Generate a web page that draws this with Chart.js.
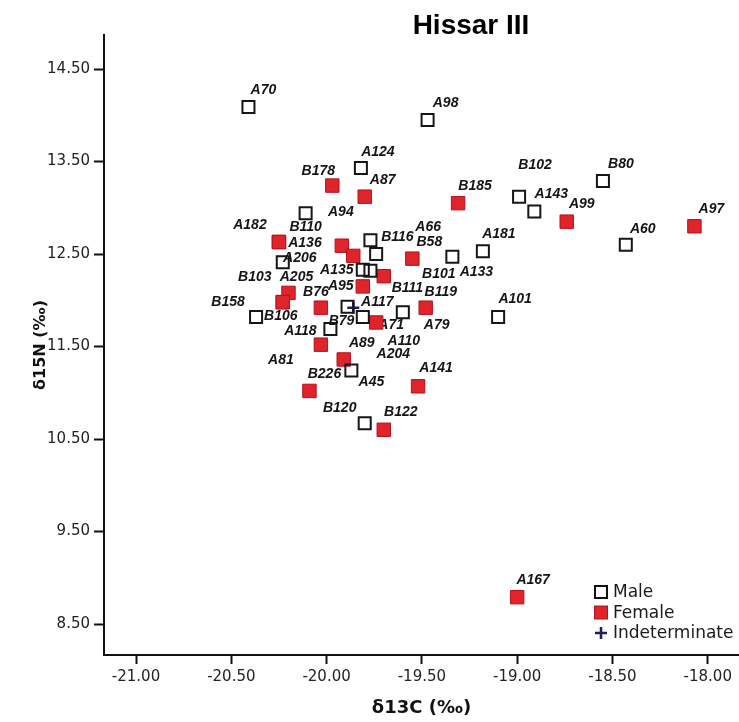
<!DOCTYPE html>
<html>
<head>
<meta charset="utf-8">
<script src="https://cdn.jsdelivr.net/npm/chart.js@4.4.0/dist/chart.umd.min.js"></script>
<style>
  html, body { margin: 0; padding: 0; background: #fff; }
  #wrap { width: 739px; height: 722px; }
</style>
</head>
<body>
<div id="wrap"><canvas id="chart" width="739" height="722"></canvas></div>
<script>
// Hissar III - d13C vs d15N by sex
const maleNames = ['A70', 'A98', 'A124', 'B110', 'B102', 'A143', 'B80', 'A60', 'A181', 'A133', 'B116', 'A66',
  'A135', 'B111', 'A206', 'B158', 'B79', 'A110', 'A118', 'B119', 'A101', 'A45', 'B120'];
const maleC = [-20.41, -19.47, -19.82, -20.11, -18.99, -18.91, -18.55, -18.43, -19.18, -19.34, -19.77, -19.74,
  -19.81, -19.77, -20.23, -20.37, -19.89, -19.81, -19.98, -19.60, -19.10, -19.87, -19.80];
const maleN = [14.09, 13.95, 13.43, 12.94, 13.12, 12.96, 13.29, 12.60, 12.53, 12.47, 12.65, 12.50,
  12.33, 12.32, 12.41, 11.82, 11.93, 11.82, 11.69, 11.87, 11.82, 11.24, 10.67];

const femaleNames = ['B178', 'A87', 'B185', 'A99', 'A97', 'A136', 'A182', 'A94', 'B58', 'B101', 'A95', 'A205',
  'B103', 'B106', 'B76', 'A71', 'A79', 'A81', 'A89', 'A204', 'B226', 'A141', 'B122', 'A167'];
const femaleC = [-19.97, -19.80, -19.31, -18.74, -18.07, -20.25, -20.25, -19.92, -19.55, -19.70, -19.81, -20.20,
  -20.23, -20.23, -20.03, -19.74, -19.48, -20.03, -19.91, -19.86, -20.09, -19.52, -19.70, -19.00];
const femaleN = [13.24, 13.12, 13.05, 12.85, 12.80, 12.63, 12.63, 12.59, 12.45, 12.26, 12.15, 12.08,
  11.98, 11.98, 11.92, 11.76, 11.92, 11.52, 11.36, 12.48, 11.02, 11.07, 10.60, 8.79];

const indetNames = ['A117'];
const indetC = [-19.86];
const indetN = [11.92];

const legendLabels = ['Male', 'Female', 'Indeterminate'];
const xTicks = [-21, -20.5, -20, -19.5, -19, -18.5, -18];
const yTicks = [8.5, 9.5, 10.5, 11.5, 12.5, 13.5, 14.5];

// where each name sits relative to its marker (px)
const maleDx = [15, 18, 17, 0, 16, 17, 18, 17, 16, 24, 27, 52, -26, 37, 17, -28, -6, 41, -30, 38, 17, 20, -25];
const maleDy = [-17, -17, -16, 14, -32, -17, -17, -16, -17, 15, -3, -27, 0, 17, -4, -15, 14, 24, 2, -20, -18, 12, -15];
const femaleDx = [-14, 18, 17, 15, 17, 26, -29, -1, 17, 55, -22, 8, -28, -2, -5, 15, 11, -40, 18, 40, 15, 18, 17, 16];
const femaleDy = [-14, -17, -17, -18, -17, 1, -17, -34, -17, -2, 0, -16, -25, 14, -16, 3, 17, 15, -16, 98, -17, -18, -18, -17];
const indetDx = [24];
const indetDy = [-6];

const toPoints = (xs, ys) => xs.map((x, i) => ({ x: x, y: ys[i] }));

const nameLabels = {
  id: 'nameLabels',
  beforeDatasetsDraw(chart) {
    const c = chart.ctx;
    c.save();
    c.font = 'italic bold 14px "Liberation Sans", Arial, sans-serif';
    c.fillStyle = '#141414';
    c.textAlign = 'center';
    c.textBaseline = 'middle';
    chart.data.datasets.forEach((ds, i) => {
      chart.getDatasetMeta(i).data.forEach((pt, j) => {
        c.fillText(ds.names[j], pt.x + ds.dx[j], pt.y + ds.dy[j]);
      });
    });
    c.restore();
  }
};

const boxLegend = {
  id: 'boxLegend',
  afterDraw(chart) {
    const c = chart.ctx;
    const x = 601, y0 = 592, step = 20.5;
    c.save();
    c.font = '17px "DejaVu Sans", sans-serif';
    c.textBaseline = 'middle';
    c.textAlign = 'left';
    // Male
    c.lineWidth = 2;
    c.strokeStyle = '#111';
    c.strokeRect(x - 6, y0 - 6, 12, 12);
    // Female
    c.fillStyle = '#e0242b';
    c.fillRect(x - 6.5, y0 + step - 6.5, 13, 13);
    c.strokeStyle = '#b3131a';
    c.lineWidth = 1;
    c.strokeRect(x - 6.5, y0 + step - 6.5, 13, 13);
    // Indeterminate
    c.strokeStyle = '#1b1f5e';
    c.lineWidth = 2.5;
    c.beginPath();
    c.moveTo(x - 6, y0 + 2 * step); c.lineTo(x + 6, y0 + 2 * step);
    c.moveTo(x, y0 + 2 * step - 6); c.lineTo(x, y0 + 2 * step + 6);
    c.stroke();
    c.fillStyle = '#1a1a1a';
    legendLabels.forEach((t, i) => c.fillText(t, x + 12, y0 + i * step + 1));
    c.restore();
  }
};

const topTitle = {
  id: 'topTitle',
  afterDraw(chart) {
    const c = chart.ctx;
    c.save();
    c.font = 'bold 28px "Liberation Sans", Arial, sans-serif';
    c.fillStyle = '#000';
    c.textAlign = 'center';
    c.textBaseline = 'middle';
    c.fillText('Hissar III', 471, 26);
    c.restore();
  }
};

const tickFont = { family: '"DejaVu Sans", sans-serif', size: 15 };

new Chart(document.getElementById('chart'), {
  type: 'scatter',
  data: {
    datasets: [
      {
        label: legendLabels[0], data: toPoints(maleC, maleN),
        names: maleNames, dx: maleDx, dy: maleDy,
        pointStyle: 'rect', pointRadius: 8.5, pointBorderWidth: 2,
        pointBorderColor: '#161616', pointBackgroundColor: 'rgba(255,255,255,0)'
      },
      {
        label: legendLabels[1], data: toPoints(femaleC, femaleN),
        names: femaleNames, dx: femaleDx, dy: femaleDy,
        pointStyle: 'rect', pointRadius: 9.5, pointBorderWidth: 1,
        pointBorderColor: '#b3131a', pointBackgroundColor: '#e0242b'
      },
      {
        label: legendLabels[2], data: toPoints(indetC, indetN),
        names: indetNames, dx: indetDx, dy: indetDy,
        pointStyle: 'cross', pointRadius: 6, pointBorderWidth: 2.5,
        pointBorderColor: '#1b1f5e', pointBackgroundColor: '#1b1f5e'
      }
    ]
  },
  options: {
    responsive: false,
    animation: false,
    layout: { autoPadding: false, padding: { top: 35, right: 0, bottom: 0, left: 0 } },
    plugins: { legend: { display: false }, tooltip: { enabled: false } },
    scales: {
      x: {
        type: 'linear', min: -21.168, max: -17.836,
        afterBuildTicks: s => { s.ticks = xTicks.map(v => ({ value: v })); },
        afterFit: s => { s.height = 67; s.paddingLeft = 0; s.paddingRight = 0; },
        ticks: { callback: v => v.toFixed(2), font: tickFont, color: '#222', padding: 4, maxRotation: 0, autoSkip: false },
        grid: { drawOnChartArea: false, drawTicks: true, tickLength: 9, tickWidth: 2, tickColor: '#111' },
        border: { display: true, color: '#111', width: 2 },
        title: { display: true, text: 'δ13C (‰)', color: '#111',
          font: { family: '"DejaVu Sans", sans-serif', size: 18, weight: 'bold' }, padding: { top: 0, bottom: 3 } }
      },
      y: {
        type: 'linear', min: 8.165, max: 14.868,
        afterBuildTicks: s => { s.ticks = yTicks.map(v => ({ value: v })); },
        afterFit: s => { s.width = 104; s.paddingTop = 0; s.paddingBottom = 0; },
        ticks: { callback: v => v.toFixed(2), font: tickFont, color: '#222', padding: 4, autoSkip: false },
        grid: { drawOnChartArea: false, drawTicks: true, tickLength: 10, tickWidth: 2, tickColor: '#111' },
        border: { display: true, color: '#111', width: 2 },
        title: { display: true, text: 'δ15N (‰)', color: '#111',
          font: { family: '"DejaVu Sans", sans-serif', size: 16, weight: 'bold' }, padding: { top: 31, bottom: 0 } }
      }
    }
  },
  plugins: [nameLabels, boxLegend, topTitle]
});
</script>
</body>
</html>
